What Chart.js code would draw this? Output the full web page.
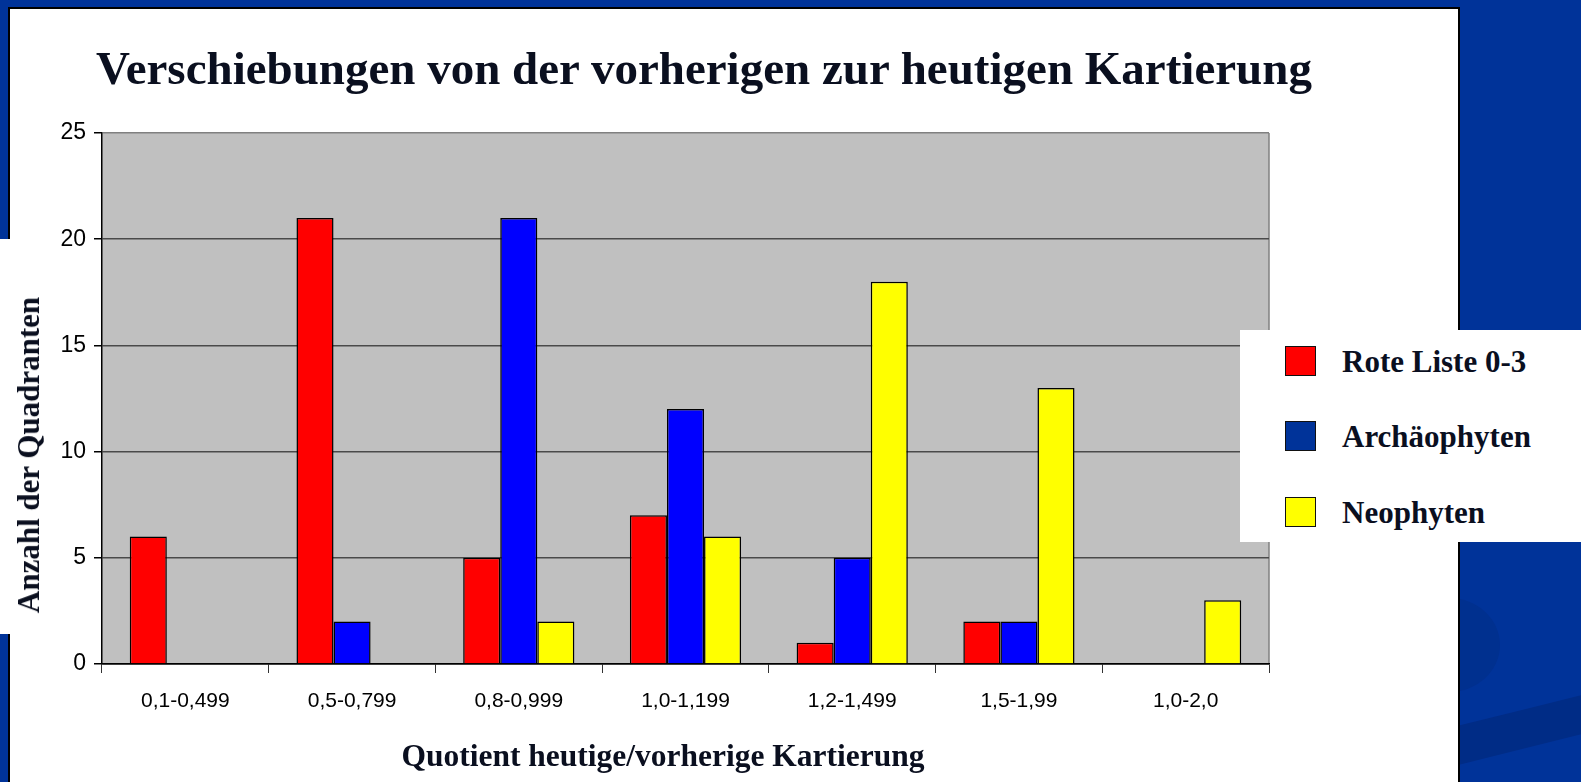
<!DOCTYPE html>
<html>
<head>
<meta charset="utf-8">
<script src="https://cdn.jsdelivr.net/npm/chart.js@4.4.1/dist/chart.umd.min.js"></script>
<style>
    body { margin: 0; width: 1581px; height: 782px; overflow: hidden; background: #003399; position: relative; }
    #panel { position: absolute; left: 8px; top: 7px; width: 1448px; height: 800px; background: #fff;
             border: 2px solid #000; border-bottom: none; }
    #leftPatch { position: absolute; left: 0; top: 239px; width: 14px; height: 395px; background: #fff; }
    #swoosh { position: absolute; left: 1460px; top: 0; width: 121px; height: 782px; overflow: hidden; }
    #swoosh .oval { position: absolute; left: -62px; top: 598px; width: 102px; height: 94px; border-radius: 50%; background: #00308f; }
    #swoosh .band { position: absolute; left: -30px; top: 706px; width: 220px; height: 38px; background: #002c86; transform: rotate(-14deg); }
    canvas { position: absolute; left: 0; top: 0; }
    .serif { font-family: 'Liberation Serif', 'Times New Roman', serif; font-weight: bold; color: #0a0f1f; white-space: nowrap; }
    #title { position: absolute; left: 96px; top: 44px; font-size: 47px; line-height: 48px; }
    #xTitle { position: absolute; left: 663px; top: 740px; font-size: 31.5px; line-height: 32px; transform: translateX(-50%); }
    #yTitle { position: absolute; left: 29px; top: 455px; font-size: 31px; line-height: 32px; transform: translate(-50%, -50%) rotate(-90deg); }
    #legend { position: absolute; left: 1240px; top: 330px; width: 341px; height: 212px; background: #fff; }
    #legend .item { position: absolute; left: 45px; height: 32px; }
    #legend .sw { position: absolute; left: 0; top: 0; width: 29px; height: 28px; border: 1.5px solid #111; }
    #legend .lbl { position: absolute; left: 57px; top: 0; font-size: 31px; line-height: 32px; }
</style>
</head>
<body>
<div id="panel"></div>
<div id="leftPatch"></div>
<div id="swoosh"><div class="oval"></div><div class="band"></div></div>
<canvas id="chart" width="1581" height="782"></canvas>
<div id="title" class="serif">Verschiebungen von der vorherigen zur heutigen Kartierung</div>
<div id="yTitle" class="serif">Anzahl der Quadranten</div>
<div id="xTitle" class="serif">Quotient heutige/vorherige Kartierung</div>
<div id="legend"></div>

<script>
let categories = ["0,1-0,499", "0,5-0,799", "0,8-0,999", "1,0-1,199", "1,2-1,499", "1,5-1,99", "1,0-2,0"];
let roteListe = [6, 21, 5, 7, 1, 2, 0];
let archaeophyten = [0, 2, 21, 12, 5, 2, 0];
let neophyten = [0, 0, 2, 6, 18, 13, 3];
let seriesNames = ["Rote Liste 0-3", "Archäophyten", "Neophyten"];
let barColors = ["#ff0000", "#0000ff", "#ffff00"];
let legendColors = ["#ff0000", "#003399", "#ffff00"];
let yTicks = [0, 5, 10, 15, 20, 25];

// legend box (the swatches in the picture use a darker blue)
let legendBox = document.getElementById("legend");
let rowTops = [16, 91, 167];
for (let i = 0; i < seriesNames.length; i++) {
    let item = document.createElement("div");
    item.className = "item";
    item.style.top = rowTops[i] + "px";
    item.innerHTML = '<div class="sw" style="background:' + legendColors[i] + '"></div>' +
        '<div class="lbl serif">' + seriesNames[i] + '</div>';
    legendBox.appendChild(item);
}

const plotBg = {
    id: "plotBg",
    beforeDraw(chart) {
        const { ctx, chartArea: a } = chart;
        ctx.save();
        ctx.fillStyle = "#c0c0c0";
        ctx.fillRect(a.left, a.top, a.right - a.left, a.bottom - a.top);
        ctx.strokeStyle = "#808080";
        ctx.lineWidth = 1.5;
        ctx.beginPath();
        ctx.moveTo(a.right, a.top);
        ctx.lineTo(a.right, a.bottom);
        ctx.stroke();
        ctx.restore();
    }
};

let tickFont = { family: "'Liberation Sans Narrow', 'Arial Narrow', 'Liberation Sans', Arial, sans-serif", size: 21 };

let datasets = [roteListe, archaeophyten, neophyten].map((values, i) => ({
    label: seriesNames[i],
    data: values,
    backgroundColor: barColors[i],
    borderColor: "#000",
    borderWidth: 1.5,
    barPercentage: 1,
    categoryPercentage: 0.667
}));

var ctx = document.getElementById("chart").getContext("2d");
var myChart = new Chart(ctx, {
    type: "bar",
    data: { labels: categories, datasets: datasets },
    options: {
        responsive: false,
        animation: false,
        devicePixelRatio: 1,
        layout: { padding: { top: 133, right: 312, left: 0, bottom: 0 } },
        plugins: { legend: { display: false }, tooltip: { enabled: false } },
        scales: {
            x: {
                afterFit: s => { s.height = 118; },
                grid: { drawOnChartArea: false, drawTicks: true, tickLength: 9, tickColor: "#333", offset: true },
                border: { color: "#000", width: 1.5 },
                ticks: { color: "#000", font: tickFont, padding: 16, maxRotation: 0 }
            },
            y: {
                min: 0,
                max: 25,
                afterFit: s => { s.width = 102; },
                afterBuildTicks: s => { s.ticks = yTicks.map(v => ({ value: v })); },
                grid: {
                    color: c => c.tick.value === 25 ? "#808080" : (c.tick.value === 0 ? "#000" : "#4a4a4a"),
                    lineWidth: 1.5,
                    tickColor: "#000",
                    tickLength: 8
                },
                border: { color: "#000", width: 1.5 },
                ticks: { color: "#000", font: { family: tickFont.family, size: 23 }, padding: 8 }
            }
        }
    },
    plugins: [plotBg]
});
</script>
</body>
</html>
